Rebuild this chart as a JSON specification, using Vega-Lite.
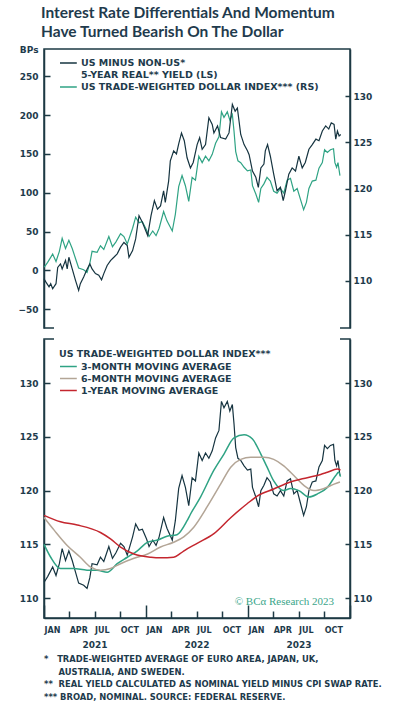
{
"$schema": "https://vega.github.io/schema/vega-lite/v6.json",
"background": "white",
"padding": {"left": 17, "top": 6, "right": 5, "bottom": 3},
"title": {"text": ["Interest Rate Differentials And Momentum", "Have Turned Bearish On The Dollar"], "anchor": "start", "frame": "group", "dx": -3, "font": "Lato", "fontSize": 15.5, "fontWeight": "bold", "color": "#1f3b4d", "lineHeight": 18.4, "offset": 4},
"datasets": {
"idx": [
{"date":"2021-01-02","v":111.5},{"date":"2021-01-14","v":112.0},{"date":"2021-02-01","v":112.9},{"date":"2021-02-13","v":112.1},{"date":"2021-02-25","v":113.2},{"date":"2021-03-07","v":114.6},{"date":"2021-03-19","v":113.5},{"date":"2021-03-31","v":114.4},{"date":"2021-04-12","v":113.5},{"date":"2021-04-24","v":112.4},{"date":"2021-05-05","v":111.4},{"date":"2021-05-23","v":111.2},{"date":"2021-06-04","v":110.9},{"date":"2021-06-14","v":111.9},{"date":"2021-06-22","v":113.2},{"date":"2021-07-10","v":113.1},{"date":"2021-07-22","v":113.8},{"date":"2021-08-03","v":113.4},{"date":"2021-08-21","v":114.8},{"date":"2021-09-03","v":113.7},{"date":"2021-09-15","v":114.2},{"date":"2021-10-02","v":115.1},{"date":"2021-10-14","v":114.8},{"date":"2021-10-26","v":114.0},{"date":"2021-11-14","v":115.7},{"date":"2021-11-25","v":116.9},{"date":"2021-12-07","v":116.3},{"date":"2021-12-19","v":116.4},{"date":"2022-01-03","v":115.5},{"date":"2022-01-12","v":114.8},{"date":"2022-01-25","v":115.4},{"date":"2022-02-06","v":114.9},{"date":"2022-02-17","v":115.7},{"date":"2022-03-05","v":117.5},{"date":"2022-03-17","v":116.5},{"date":"2022-04-05","v":115.4},{"date":"2022-04-16","v":117.2},{"date":"2022-04-28","v":120.2},{"date":"2022-05-10","v":121.4},{"date":"2022-05-22","v":120.3},{"date":"2022-06-03","v":118.6},{"date":"2022-06-15","v":121.2},{"date":"2022-06-27","v":120.9},{"date":"2022-07-09","v":123.5},{"date":"2022-07-21","v":122.8},{"date":"2022-08-02","v":123.5},{"date":"2022-08-14","v":123.0},{"date":"2022-08-26","v":123.7},{"date":"2022-09-07","v":124.9},{"date":"2022-09-19","v":125.6},{"date":"2022-09-28","v":128.3},{"date":"2022-10-07","v":127.7},{"date":"2022-10-19","v":128.3},{"date":"2022-10-28","v":127.4},{"date":"2022-11-06","v":128.0},{"date":"2022-11-12","v":126.2},{"date":"2022-11-18","v":124.0},{"date":"2022-11-26","v":123.0},{"date":"2022-12-06","v":122.8},{"date":"2022-12-18","v":122.3},{"date":"2022-12-30","v":121.9},{"date":"2023-01-11","v":122.0},{"date":"2023-01-17","v":120.3},{"date":"2023-01-29","v":119.4},{"date":"2023-02-08","v":118.5},{"date":"2023-02-16","v":120.0},{"date":"2023-02-27","v":120.5},{"date":"2023-03-10","v":121.2},{"date":"2023-03-22","v":120.8},{"date":"2023-04-03","v":119.7},{"date":"2023-04-15","v":119.5},{"date":"2023-04-27","v":120.0},{"date":"2023-05-09","v":119.5},{"date":"2023-05-21","v":120.9},{"date":"2023-06-02","v":121.1},{"date":"2023-06-14","v":119.7},{"date":"2023-06-26","v":120.0},{"date":"2023-07-08","v":118.8},{"date":"2023-07-19","v":117.7},{"date":"2023-07-29","v":118.5},{"date":"2023-08-07","v":120.0},{"date":"2023-08-19","v":120.8},{"date":"2023-09-01","v":120.9},{"date":"2023-09-12","v":122.2},{"date":"2023-09-24","v":122.8},{"date":"2023-10-02","v":124.2},{"date":"2023-10-12","v":123.9},{"date":"2023-10-23","v":124.2},{"date":"2023-11-03","v":124.3},{"date":"2023-11-08","v":122.8},{"date":"2023-11-14","v":122.3},{"date":"2023-11-19","v":122.8},{"date":"2023-11-26","v":121.4}
],
"bps": [
{"date":"2021-01-01","v":-10.7},{"date":"2021-01-08","v":-15},{"date":"2021-01-19","v":-21},{"date":"2021-01-25","v":-17},{"date":"2021-02-01","v":-23.5},{"date":"2021-02-13","v":-17},{"date":"2021-02-19","v":4},{"date":"2021-03-01","v":8.5},{"date":"2021-03-07","v":2},{"date":"2021-03-19","v":13},{"date":"2021-03-25","v":2},{"date":"2021-03-31","v":17},{"date":"2021-04-12","v":2},{"date":"2021-04-24","v":-13},{"date":"2021-05-05","v":-25.6},{"date":"2021-05-11","v":-17},{"date":"2021-05-23","v":-8.5},{"date":"2021-06-02","v":0},{"date":"2021-06-14","v":8.5},{"date":"2021-06-22","v":2},{"date":"2021-07-04","v":-4},{"date":"2021-07-16","v":-6},{"date":"2021-07-26","v":-12},{"date":"2021-08-03","v":-4},{"date":"2021-08-15","v":6.4},{"date":"2021-08-27","v":12.8},{"date":"2021-09-08","v":17},{"date":"2021-09-20","v":21.4},{"date":"2021-10-02","v":30},{"date":"2021-10-14","v":36},{"date":"2021-10-26","v":32},{"date":"2021-11-01","v":17},{"date":"2021-11-14","v":25.6},{"date":"2021-11-25","v":40.6},{"date":"2021-12-07","v":70.5},{"date":"2021-12-19","v":62},{"date":"2022-01-07","v":45},{"date":"2022-01-19","v":70.5},{"date":"2022-01-31","v":90},{"date":"2022-02-11","v":79},{"date":"2022-02-22","v":83},{"date":"2022-03-05","v":102.6},{"date":"2022-03-11","v":87.6},{"date":"2022-03-23","v":115},{"date":"2022-03-29","v":141},{"date":"2022-04-10","v":154},{"date":"2022-04-20","v":150},{"date":"2022-04-28","v":163},{"date":"2022-05-08","v":177},{"date":"2022-05-18","v":167},{"date":"2022-05-28","v":145},{"date":"2022-06-09","v":132},{"date":"2022-06-19","v":139},{"date":"2022-07-03","v":162},{"date":"2022-07-12","v":171},{"date":"2022-07-21","v":156},{"date":"2022-08-02","v":162},{"date":"2022-08-14","v":196.6},{"date":"2022-08-26","v":188},{"date":"2022-09-01","v":177},{"date":"2022-09-14","v":186},{"date":"2022-09-25","v":171},{"date":"2022-10-13","v":169},{"date":"2022-10-25","v":177},{"date":"2022-11-06","v":213.7},{"date":"2022-11-16","v":205},{"date":"2022-11-24","v":209},{"date":"2022-11-30","v":192},{"date":"2022-12-06","v":175},{"date":"2022-12-18","v":162},{"date":"2022-12-30","v":154},{"date":"2023-01-05","v":149},{"date":"2023-01-17","v":128},{"date":"2023-01-29","v":120},{"date":"2023-02-07","v":107},{"date":"2023-02-16","v":132},{"date":"2023-02-27","v":137},{"date":"2023-03-04","v":154},{"date":"2023-03-12","v":162},{"date":"2023-03-22","v":147},{"date":"2023-04-03","v":124},{"date":"2023-04-15","v":102.6},{"date":"2023-04-27","v":107},{"date":"2023-05-07","v":90},{"date":"2023-05-15","v":102.6},{"date":"2023-05-27","v":124},{"date":"2023-06-08","v":132},{"date":"2023-06-20","v":128},{"date":"2023-07-02","v":147},{"date":"2023-07-14","v":132},{"date":"2023-07-25","v":139},{"date":"2023-08-07","v":156},{"date":"2023-08-19","v":162},{"date":"2023-09-01","v":169},{"date":"2023-09-12","v":167},{"date":"2023-09-24","v":179.5},{"date":"2023-10-06","v":186},{"date":"2023-10-17","v":182},{"date":"2023-10-26","v":190},{"date":"2023-11-05","v":188},{"date":"2023-11-11","v":169},{"date":"2023-11-17","v":179.5},{"date":"2023-11-23","v":173},{"date":"2023-11-29","v":175}
],
"ma": [
{"date":"2021-01-01","series":"3-MONTH MOVING AVERAGE","v":115.0},{"date":"2021-01-25","series":"3-MONTH MOVING AVERAGE","v":113.8},{"date":"2021-03-01","series":"3-MONTH MOVING AVERAGE","v":112.75},{"date":"2021-04-17","series":"3-MONTH MOVING AVERAGE","v":112.75},{"date":"2021-06-04","series":"3-MONTH MOVING AVERAGE","v":112.6},{"date":"2021-07-10","series":"3-MONTH MOVING AVERAGE","v":112.6},{"date":"2021-08-15","series":"3-MONTH MOVING AVERAGE","v":112.4},{"date":"2021-09-20","series":"3-MONTH MOVING AVERAGE","v":113.2},{"date":"2021-10-26","series":"3-MONTH MOVING AVERAGE","v":113.8},{"date":"2021-12-01","series":"3-MONTH MOVING AVERAGE","v":114.4},{"date":"2022-01-07","series":"3-MONTH MOVING AVERAGE","v":115.2},{"date":"2022-02-11","series":"3-MONTH MOVING AVERAGE","v":115.4},{"date":"2022-03-17","series":"3-MONTH MOVING AVERAGE","v":115.75},{"date":"2022-04-22","series":"3-MONTH MOVING AVERAGE","v":115.9},{"date":"2022-05-28","series":"3-MONTH MOVING AVERAGE","v":117.2},{"date":"2022-06-09","series":"3-MONTH MOVING AVERAGE","v":117.8},{"date":"2022-07-15","series":"3-MONTH MOVING AVERAGE","v":119.4},{"date":"2022-09-01","series":"3-MONTH MOVING AVERAGE","v":121.9},{"date":"2022-10-07","series":"3-MONTH MOVING AVERAGE","v":123.4},{"date":"2022-11-12","series":"3-MONTH MOVING AVERAGE","v":124.9},{"date":"2022-12-18","series":"3-MONTH MOVING AVERAGE","v":125.2},{"date":"2023-01-17","series":"3-MONTH MOVING AVERAGE","v":124.8},{"date":"2023-02-16","series":"3-MONTH MOVING AVERAGE","v":123.4},{"date":"2023-03-10","series":"3-MONTH MOVING AVERAGE","v":122.2},{"date":"2023-04-03","series":"3-MONTH MOVING AVERAGE","v":120.9},{"date":"2023-05-09","series":"3-MONTH MOVING AVERAGE","v":120.0},{"date":"2023-06-02","series":"3-MONTH MOVING AVERAGE","v":120.2},{"date":"2023-07-02","series":"3-MONTH MOVING AVERAGE","v":120.0},{"date":"2023-08-07","series":"3-MONTH MOVING AVERAGE","v":119.4},{"date":"2023-09-07","series":"3-MONTH MOVING AVERAGE","v":119.7},{"date":"2023-10-12","series":"3-MONTH MOVING AVERAGE","v":120.3},{"date":"2023-11-11","series":"3-MONTH MOVING AVERAGE","v":121.4},{"date":"2023-11-21","series":"3-MONTH MOVING AVERAGE","v":121.7},{"date":"2023-11-28","series":"3-MONTH MOVING AVERAGE","v":121.3},
{"date":"2021-01-01","series":"6-MONTH MOVING AVERAGE","v":117.5},{"date":"2021-02-07","series":"6-MONTH MOVING AVERAGE","v":116.3},{"date":"2021-03-25","series":"6-MONTH MOVING AVERAGE","v":114.9},{"date":"2021-05-11","series":"6-MONTH MOVING AVERAGE","v":113.8},{"date":"2021-06-16","series":"6-MONTH MOVING AVERAGE","v":112.9},{"date":"2021-07-22","series":"6-MONTH MOVING AVERAGE","v":112.6},{"date":"2021-08-27","series":"6-MONTH MOVING AVERAGE","v":112.75},{"date":"2021-10-02","series":"6-MONTH MOVING AVERAGE","v":113.2},{"date":"2021-11-19","series":"6-MONTH MOVING AVERAGE","v":113.7},{"date":"2022-01-07","series":"6-MONTH MOVING AVERAGE","v":114.1},{"date":"2022-02-22","series":"6-MONTH MOVING AVERAGE","v":114.75},{"date":"2022-04-10","series":"6-MONTH MOVING AVERAGE","v":115.2},{"date":"2022-05-16","series":"6-MONTH MOVING AVERAGE","v":115.7},{"date":"2022-06-21","series":"6-MONTH MOVING AVERAGE","v":116.6},{"date":"2022-08-08","series":"6-MONTH MOVING AVERAGE","v":118.5},{"date":"2022-09-25","series":"6-MONTH MOVING AVERAGE","v":120.6},{"date":"2022-11-01","series":"6-MONTH MOVING AVERAGE","v":122.2},{"date":"2022-12-06","series":"6-MONTH MOVING AVERAGE","v":122.9},{"date":"2023-01-11","series":"6-MONTH MOVING AVERAGE","v":123.1},{"date":"2023-02-27","series":"6-MONTH MOVING AVERAGE","v":123.1},{"date":"2023-04-03","series":"6-MONTH MOVING AVERAGE","v":122.9},{"date":"2023-05-09","series":"6-MONTH MOVING AVERAGE","v":122.3},{"date":"2023-06-14","series":"6-MONTH MOVING AVERAGE","v":121.4},{"date":"2023-07-19","series":"6-MONTH MOVING AVERAGE","v":120.5},{"date":"2023-08-25","series":"6-MONTH MOVING AVERAGE","v":120.0},{"date":"2023-09-30","series":"6-MONTH MOVING AVERAGE","v":120.2},{"date":"2023-11-05","series":"6-MONTH MOVING AVERAGE","v":120.6},{"date":"2023-11-26","series":"6-MONTH MOVING AVERAGE","v":120.8},
{"date":"2021-01-01","series":"1-YEAR MOVING AVERAGE","v":117.7},{"date":"2021-03-01","series":"1-YEAR MOVING AVERAGE","v":117.1},{"date":"2021-04-30","series":"1-YEAR MOVING AVERAGE","v":116.8},{"date":"2021-07-22","series":"1-YEAR MOVING AVERAGE","v":116.1},{"date":"2021-08-27","series":"1-YEAR MOVING AVERAGE","v":115.5},{"date":"2021-10-02","series":"1-YEAR MOVING AVERAGE","v":114.75},{"date":"2021-11-19","series":"1-YEAR MOVING AVERAGE","v":114.1},{"date":"2022-01-19","series":"1-YEAR MOVING AVERAGE","v":113.8},{"date":"2022-02-22","series":"1-YEAR MOVING AVERAGE","v":113.75},{"date":"2022-04-10","series":"1-YEAR MOVING AVERAGE","v":113.8},{"date":"2022-05-04","series":"1-YEAR MOVING AVERAGE","v":114.15},{"date":"2022-05-20","series":"1-YEAR MOVING AVERAGE","v":114.45},{"date":"2022-07-03","series":"1-YEAR MOVING AVERAGE","v":115.1},{"date":"2022-09-01","series":"1-YEAR MOVING AVERAGE","v":116.0},{"date":"2022-11-01","series":"1-YEAR MOVING AVERAGE","v":117.5},{"date":"2022-12-30","series":"1-YEAR MOVING AVERAGE","v":118.8},{"date":"2023-02-04","series":"1-YEAR MOVING AVERAGE","v":119.5},{"date":"2023-04-03","series":"1-YEAR MOVING AVERAGE","v":120.15},{"date":"2023-06-02","series":"1-YEAR MOVING AVERAGE","v":120.8},{"date":"2023-08-01","series":"1-YEAR MOVING AVERAGE","v":121.2},{"date":"2023-09-18","series":"1-YEAR MOVING AVERAGE","v":121.5},{"date":"2023-10-12","series":"1-YEAR MOVING AVERAGE","v":121.7},{"date":"2023-11-17","series":"1-YEAR MOVING AVERAGE","v":122.0},{"date":"2023-11-28","series":"1-YEAR MOVING AVERAGE","v":121.9}
]
},
"spacing": 11,
"bounds": "flush",
"vconcat": [
{
"width": 306, "height": 279,
"view": {"stroke": "#1d3a44", "strokeWidth": 1.5, "strokeDash": [595, 286, 289]},
"layer": [
{"data": {"name": "idx"}, "mark": {"type": "line", "strokeWidth": 1.2, "interpolate": "linear"},
 "encoding": {
  "x": {"field": "date", "type": "temporal", "scale": {"domain": [{"year": 2021, "month": 1, "date": 1}, {"year": 2024, "month": 1, "date": 1}]}, "axis": null},
  "y": {"field": "v", "type": "quantitative", "scale": {"domain": [104.9, 135.1], "nice": false, "zero": false}, "axis": {"orient": "right", "values": [110, 115, 120, 125, 130], "tickSize": -5, "labelPadding": 8, "title": null}},
  "color": {"datum": "US TRADE-WEIGHTED DOLLAR INDEX*** (RS)", "type": "nominal", "scale": {"domain": ["US MINUS NON-US*", "5-YEAR REAL** YIELD (LS)", "US TRADE-WEIGHTED DOLLAR INDEX*** (RS)"], "range": ["#163440", "transparent", "#2fa384"]},
   "legend": {"orient": "none", "legendX": 15, "legendY": 7, "title": null, "symbolType": "M-1,0H1.8", "symbolSize": 144, "symbolStrokeWidth": 1.5, "labelFont": "DejaVu Sans", "labelFontWeight": "bold", "labelFontSize": 9.5, "labelColor": "#1e3b4c", "labelOffset": 8, "rowPadding": 0, "padding": 0, "labelLimit": 400}}
 }},
{"data": {"name": "bps"}, "mark": {"type": "line", "strokeWidth": 1.2},
 "encoding": {
  "x": {"field": "date", "type": "temporal", "axis": null},
  "y": {"field": "v", "type": "quantitative", "scale": {"domain": [-74, 285], "nice": false, "zero": false}, "axis": {"orient": "left", "values": [-50, 0, 50, 100, 150, 200, 250], "tickSize": -6, "labelPadding": 12, "title": "BPs", "titleAngle": 0, "titleAlign": "right", "titleBaseline": "middle", "titleX": -6, "titleY": 0, "titleFont": "DejaVu Sans", "titleFontSize": 9, "titleFontWeight": "bold", "titleColor": "#1e3b4c"}},
  "color": {"datum": "US MINUS NON-US*", "type": "nominal"}
 }}
],
"resolve": {"scale": {"y": "independent"}}
},
{
"width": 306, "height": 279,
"view": {"stroke": "#1d3a44", "strokeWidth": 1.5, "strokeDash": [10, 286, 874]},
"title": {"text": ["*\u00a0\u00a0\u00a0TRADE-WEIGHTED AVERAGE OF EURO AREA, JAPAN, UK,", "\u200b\u00a0\u00a0\u00a0\u00a0\u00a0AUSTRALIA, AND SWEDEN.", "**\u00a0\u00a0REAL YIELD CALCULATED AS NOMINAL YIELD MINUS CPI SWAP RATE.", "***\u00a0BROAD, NOMINAL. SOURCE: FEDERAL RESERVE."], "orient": "bottom", "anchor": "start", "frame": "group", "align": "left", "font": "DejaVu Sans", "fontSize": 8.4, "fontWeight": "bold", "color": "#1e3b4c", "lineHeight": 12.6, "offset": 6},
"layer": [
{"data": {"name": "idx"}, "mark": {"type": "line", "strokeWidth": 1.2, "color": "#163440"},
 "encoding": {
  "x": {"field": "date", "type": "temporal", "scale": {"domain": [{"year": 2021, "month": 1, "date": 1}, {"year": 2024, "month": 1, "date": 1}]},
   "axis": {"orient": "bottom", "title": null, "tickCount": {"interval": "month", "step": 3}, "labelExpr": "year(datum.value) >= 2024 ? '' : upper(timeFormat(datum.value, '%b'))", "labelAlign": "left", "labelFontSize": 8, "labelPadding": {"condition": {"test": "month(datum.value) == 0", "value": 21}, "value": 15}, "labelOverlap": false, "labelFlush": false, "labelBound": false, "tickSize": {"condition": {"test": "month(datum.value) == 0", "value": -13}, "value": -7}}},
  "y": {"field": "v", "type": "quantitative", "scale": {"domain": [108.15, 134.1], "nice": false, "zero": false}, "axis": {"orient": "left", "values": [110, 115, 120, 125, 130], "tickSize": -6, "labelPadding": 12, "title": null}}
 }},
{"data": {"name": "ma"}, "mark": {"type": "line", "strokeWidth": 1.5, "interpolate": "monotone"},
 "encoding": {
  "x": {"field": "date", "type": "temporal", "axis": {"orient": "bottom", "title": null, "values": [{"year": 2021, "month": 7, "date": 1}, {"year": 2022, "month": 7, "date": 1}, {"year": 2023, "month": 7, "date": 1}], "format": "%Y", "ticks": false, "domain": false, "labelAlign": "center", "labelFontSize": 9, "labelPadding": 22, "labelOverlap": false, "labelFlush": false}},
  "y": {"field": "v", "type": "quantitative", "axis": {"orient": "right", "values": [110, 115, 120, 125, 130], "tickSize": -5, "labelPadding": 8, "title": null}},
  "color": {"field": "series", "type": "nominal", "scale": {"domain": ["3-MONTH MOVING AVERAGE", "6-MONTH MOVING AVERAGE", "1-YEAR MOVING AVERAGE"], "range": ["#2fa384", "#b3a596", "#c4262e"]},
   "legend": {"orient": "none", "legendX": 15, "legendY": 10, "title": "US TRADE-WEIGHTED DOLLAR INDEX***", "titleFont": "DejaVu Sans", "titleFontSize": 9.5, "titleFontWeight": "bold", "titleColor": "#1e3b4c", "titlePadding": 1, "titleLimit": 400, "symbolType": "M-1,0H1.8", "symbolSize": 144, "symbolStrokeWidth": 1.5, "labelFont": "DejaVu Sans", "labelFontWeight": "bold", "labelFontSize": 9.5, "labelColor": "#1e3b4c", "labelOffset": 8, "rowPadding": 0, "padding": 0, "labelLimit": 400}}
 }},
{"data": {"values": [{"label": "© BCα Research 2023"}]},
 "mark": {"type": "text", "align": "right", "baseline": "middle", "font": "Liberation Serif", "fontSize": 11, "color": "#3aa68a"},
 "encoding": {
  "x": {"datum": {"year": 2023, "month": 11, "date": 5}, "type": "temporal", "axis": null},
  "y": {"datum": 109.66, "type": "quantitative", "axis": null},
  "text": {"field": "label", "type": "nominal"}
 }}
],
"resolve": {"axis": {"x": "independent", "y": "independent"}}
}
],
"resolve": {"scale": {"color": "independent"}, "legend": {"color": "independent"}},
"config": {
 "axis": {"labelFont": "DejaVu Sans", "labelFontWeight": "bold", "labelFontSize": 9, "labelColor": "#1e3b4c", "domainColor": "#1d3a44", "domainWidth": 1.5, "tickColor": "#1d3a44", "tickWidth": 1.5, "grid": false},
 "legend": {"orient": "none"}
}
}
